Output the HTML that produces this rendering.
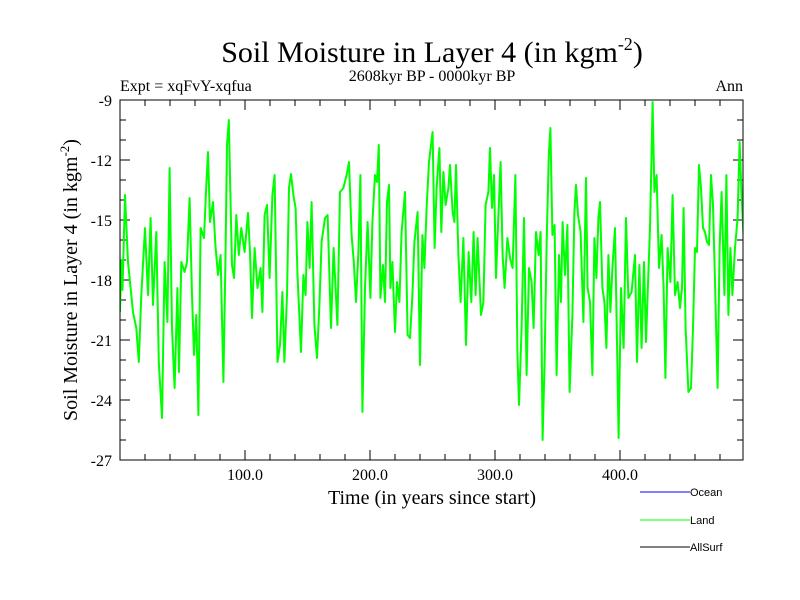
<!DOCTYPE html>
<html><head><meta charset="utf-8"><style>
body{margin:0;background:#fff;}
svg{display:block;}
.s{font-family:"Liberation Serif",serif;fill:#000;}
.a{font-family:"Liberation Sans",sans-serif;fill:#000;font-size:11px;}
</style></head><body>
<svg id="chart" width="800" height="600">
<text class="s" x="432" y="62" font-size="30" text-anchor="middle">Soil Moisture in Layer 4 (in kgm<tspan dy="-12" font-size="18">-2</tspan><tspan dy="12">)</tspan></text>
<text class="s" x="432" y="81" font-size="16" text-anchor="middle">2608kyr BP - 0000kyr BP</text>
<text class="s" x="120" y="91" font-size="16">Expt = xqFvY-xqfua</text>
<text class="s" x="743" y="91" font-size="16" text-anchor="end">Ann</text>
<text class="s" transform="translate(77,280) rotate(-90)" font-size="20" text-anchor="middle">Soil Moisture in Layer 4 (in kgm<tspan dy="-8" font-size="13">-2</tspan><tspan dy="8">)</tspan></text>
<text class="s" x="432" y="504" font-size="20" text-anchor="middle">Time (in years since start)</text>
<g id="ticks"></g>
<clipPath id="cp"><rect x="120" y="100" width="623" height="360"/></clipPath>
<g clip-path="url(#cp)"><path id="land" fill="none" stroke="#00ff00" stroke-width="2" stroke-linejoin="round"/></g>
<rect x="120" y="100" width="623" height="360" fill="none" stroke="#000" stroke-width="1"/>
<g>
<line x1="640" y1="492" x2="690" y2="492" stroke="#0000ff"/>
<text class="a" x="690" y="496">Ocean</text>
<line x1="640" y1="520" x2="690" y2="520" stroke="#00ff00"/>
<text class="a" x="690" y="524">Land</text>
<line x1="640" y1="547" x2="690" y2="547" stroke="#000"/>
<text class="a" x="690" y="551">AllSurf</text>
</g>
</svg>
<script>
const years=[0,1,2,4,6.4,10.4,13,15,17,20,22.4,24.5,26.4,29,31,33.6,35.7,37.9,39.7,41.6,43.7,45.9,47.2,49,51.7,53.6,55.7,57.6,59.2,61,62.7,64.5,67.2,69,70.4,72,74.4,76.3,78.4,80.5,82.7,84.3,85.6,87,88.3,89.6,91.2,93,95,97,99.7,102.4,104,105.6,107.7,110,112.5,113.9,115.7,117.6,119.7,121.9,123.7,126,128,129.9,131.5,133.6,135.2,136.8,138.7,140.5,142,144.8,146.7,148.5,149.9,151.7,153.3,155.5,157.6,159.5,161.3,164,166.1,168.8,170.9,173.9,176,178.7,181.3,183.2,185.3,187,188.8,190.7,192.3,193.9,196,198.1,200.3,201.9,204,205.6,207,208.3,210.4,212,213.6,215.2,216.3,217.9,220,221.6,223.5,225.3,228,230.1,232,233.9,235.5,238.1,240,241.9,243.5,245.3,247.2,248.8,250.1,251.7,253.3,255.5,257,258.7,260.5,262.7,264,266.1,267.5,268.8,270.7,272.5,274.7,276.8,278.9,281,282.9,284.5,286.1,288.8,290.7,292.5,294.7,296,297.6,299.2,300.8,302.7,304.5,306.1,307.7,309.9,312,314.1,316.3,317.9,319.2,321.3,323.2,325.3,327.2,329.3,330.9,332.8,334.9,336.5,338.1,339.7,341.3,343,344.3,345.9,347.7,349.3,351.2,352.8,354.1,356,357.9,359.7,361.9,363.5,364.8,366.4,368.5,370.7,372.8,374.1,376,377.9,379.5,381.1,382.7,384,385.9,387.5,389.1,390.7,392.3,393.9,396,397.6,398.9,400.8,402.9,404.8,406.7,409.3,412,413.6,415.5,417.3,419.2,420.8,422.1,424,425.1,426.1,427.5,429.3,431.2,433.3,434.9,436.3,438.1,440.3,442.1,444,446.1,448,449.6,450.9,452.5,454.7,456.8,458.4,460,461.6,463.2,464.8,466.4,468,469.6,471.2,472.8,474.4,476,478.1,479.7,481.3,483.5,485.1,486.7,488.3,489.9,492,494.1,495.7,497.3,498.9];
const landValues=[-19.6,-17,-18.5,-13.75,-17.1,-19.6,-20.4,-22.1,-18.75,-15.4,-18.75,-14.9,-19.25,-15.6,-22.1,-24.9,-17.1,-20.1,-12.4,-20.4,-23.4,-18.4,-22.6,-17.1,-17.6,-17.1,-13.9,-18.75,-21.75,-19.75,-24.75,-15.4,-15.9,-13.25,-11.6,-15.1,-14.1,-16.25,-17.75,-16.75,-23.1,-17.1,-11.25,-10,-13.75,-17.25,-17.9,-14.75,-16.75,-15.4,-16.6,-14.65,-16.6,-19.9,-16.4,-18.4,-17.4,-19.6,-14.75,-14.25,-17.9,-13.75,-12.75,-22.1,-21.25,-18.6,-22.1,-18.75,-13.4,-12.7,-13.75,-14.4,-17.75,-21.6,-17.75,-18.75,-15.1,-17.4,-14.1,-20.25,-21.9,-19.25,-16.1,-14.9,-14.75,-20.4,-16.4,-20.25,-13.6,-13.4,-12.75,-12.1,-15.75,-17.1,-19.1,-16.6,-12.75,-24.6,-18.4,-15.1,-18.9,-15.1,-12.75,-13.1,-11.25,-18.9,-17.25,-19.1,-14.1,-13.25,-18.4,-17.1,-20.6,-18.1,-19.1,-15.6,-13.6,-20.75,-20.9,-18.75,-16.1,-14.6,-22.25,-15.75,-17.4,-14.4,-12.1,-11.25,-10.6,-16.4,-13.4,-11.4,-15.6,-12.6,-14.25,-13.4,-12.25,-14.6,-15.1,-12.25,-16.75,-19.1,-15.9,-21.25,-16.6,-19.1,-15.6,-18.75,-15.9,-19.75,-19.1,-14.25,-13.6,-11.4,-14.4,-12.75,-17.9,-14.75,-12.1,-16.75,-18.4,-15.9,-16.9,-17.4,-12.75,-21.6,-24.25,-20.4,-14.9,-22.75,-17.4,-18.1,-20.4,-15.6,-16.75,-15.6,-26,-22.1,-16.25,-11.75,-10.4,-15.75,-15.25,-22.75,-16.75,-19.1,-15.1,-17.75,-15.25,-23.6,-19.75,-14.6,-13.25,-14.75,-15.6,-20.1,-12.9,-18.4,-19.1,-22.75,-15.9,-17.9,-14.9,-14.1,-18.4,-19.1,-21.4,-16.75,-19.6,-17.4,-15.4,-21.1,-25.9,-18.4,-21.4,-14.9,-18.9,-18.6,-16.75,-22.1,-17.25,-21.4,-17.1,-21.1,-18.75,-15.4,-12.1,-9.1,-13.6,-12.75,-17.4,-15.75,-18.4,-22.9,-16.4,-18.1,-13.75,-18.75,-18.1,-19.4,-18.4,-14.4,-20.4,-23.6,-23.4,-20.4,-16.4,-16.6,-12.25,-13.4,-15.4,-15.6,-16.1,-16.25,-12.75,-14.25,-18.1,-23.4,-16.4,-13.6,-18.75,-12.75,-19.75,-16.4,-18.75,-16.4,-14.9,-11.1,-13.75,-15.9];
const yTickValues=[-9,-12,-15,-18,-21,-24,-27];
const xTickValues=[100,200,300,400];
const xTickLabels=["100.0","200.0","300.0","400.0"];

const L=120,T=100,R=743,B=460;
const sx=v=>L+v*1.25;
const sy=v=>T+(-9-v)*20;
const NS="http://www.w3.org/2000/svg";
const tg=document.getElementById('ticks');
function ln(x1,y1,x2,y2){const l=document.createElementNS(NS,'line');l.setAttribute('x1',x1);l.setAttribute('y1',y1);l.setAttribute('x2',x2);l.setAttribute('y2',y2);l.setAttribute('stroke','#000');l.setAttribute('stroke-width','1');


tg.appendChild(l);}
for(let v=-9;v>=-27;v--){const y=sy(v);const major=(v%3===0);const len=major?10:6;ln(L,y,L+len,y);ln(R,y,R-len,y);}
for(let v=20;v<500;v+=20){const x=sx(v);const major=(v%100===0);const len=major?10:6;ln(x,B,x,B-len);ln(x,T,x,T+len);}
yTickValues.forEach(v=>{const t=document.createElementNS(NS,'text');t.setAttribute('class','s');t.setAttribute('x',L-8);t.setAttribute('y',sy(v)+6);t.setAttribute('font-size','16');t.setAttribute('text-anchor','end');t.textContent=v;


tg.appendChild(t);});
xTickValues.forEach((v,i)=>{const t=document.createElementNS(NS,'text');t.setAttribute('class','s');t.setAttribute('x',sx(v));t.setAttribute('y',B+20);t.setAttribute('font-size','16');t.setAttribute('text-anchor','middle');t.textContent=xTickLabels[i];


tg.appendChild(t);});
document.getElementById('land').setAttribute('d',years.map((y,i)=>(i?'L':'M')+sx(y).toFixed(1)+','+sy(landValues[i]).toFixed(1)).join(''));
</script>
</body></html>
